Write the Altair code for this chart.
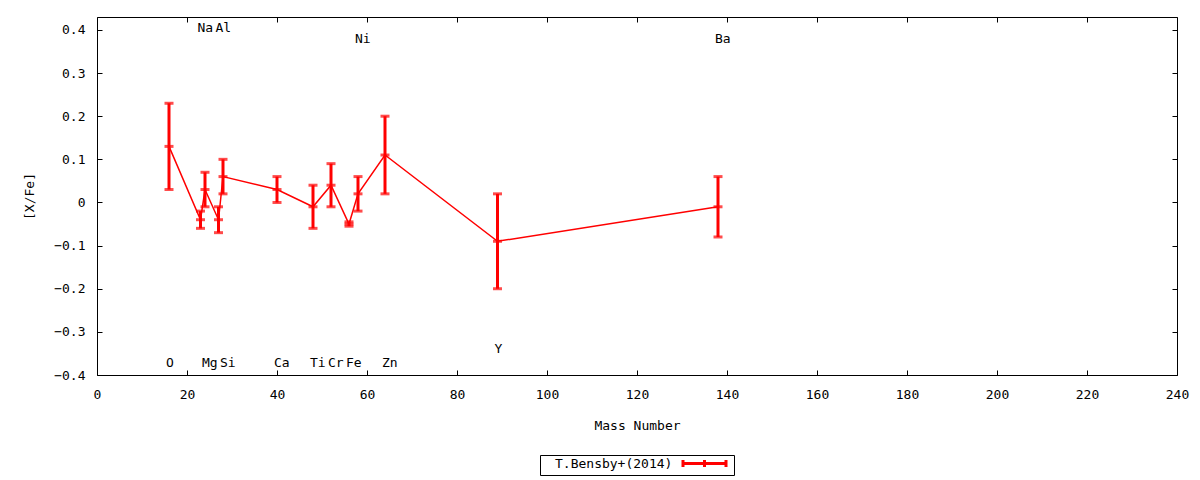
import altair as alt
import pandas as pd

# Data
elements = ["O", "Na", "Mg", "Al", "Si", "Ca", "Ti", "Cr", "Fe", "Ni", "Zn", "Y", "Ba"]
mass = [16, 23, 24, 27, 28, 40, 48, 52, 56, 58, 64, 89, 138]
xfe = [0.13, -0.04, 0.03, -0.04, 0.06, 0.03, -0.01, 0.04, -0.05, 0.02, 0.11, -0.09, -0.01]
err = [0.10, 0.02, 0.04, 0.03, 0.04, 0.03, 0.05, 0.05, 0.005, 0.04, 0.09, 0.11, 0.07]

# element label positions (data units)
label_names = ["O", "Na", "Mg", "Al", "Si", "Ca", "Ti", "Cr", "Fe", "Ni", "Zn", "Y", "Ba"]
label_x = [16, 23, 24, 27, 28, 40, 48, 52, 56, 58, 64, 89, 138]
label_y = [-0.372, 0.405, -0.372, 0.405, -0.372, -0.372, -0.372, -0.372, -0.372, 0.38, -0.372, -0.34, 0.38]

series_name = "T.Bensby+(2014)"
x_ticks = list(range(0, 241, 20))
y_ticks = [-0.4, -0.3, -0.2, -0.1, 0, 0.1, 0.2, 0.3, 0.4]

df = pd.DataFrame({
    "el": elements, "A": mass, "v": xfe,
    "lo": [a - b for a, b in zip(xfe, err)],
    "hi": [a + b for a, b in zip(xfe, err)],
    "s": [series_name] * len(mass),
})
lab = pd.DataFrame({"t": label_names, "x": label_x, "y": label_y})

FONT = "DejaVu Sans Mono"
xs = alt.Scale(domain=[0, 240], nice=False, zero=False)
ys = alt.Scale(domain=[-0.4, 0.43], nice=False, zero=False)

TICK = 5
x_axis_bottom = alt.Axis(
    orient="bottom", values=x_ticks, domain=False, grid=False, tickSize=TICK,
    offset=-TICK, tickColor="black", labelPadding=13, labelFontSize=13,
    labelFont=FONT, labelColor="black", title="Mass Number", titleFont=FONT,
    titleFontSize=13, titleFontWeight="normal", titleColor="black", titlePadding=18,
    labelFlush=False,
)
x_axis_top = alt.Axis(
    orient="top", values=x_ticks, domain=False, grid=False, tickSize=TICK,
    offset=-TICK, tickColor="black", labels=False, title=None,
)
y_axis_left = alt.Axis(
    orient="left", values=y_ticks, domain=False, grid=False, tickSize=TICK,
    offset=-TICK, tickColor="black", labelPadding=12, labelFontSize=13,
    labelFont=FONT, labelColor="black", title="[X/Fe]", titleFont=FONT,
    titleFontSize=13, titleFontWeight="normal", titleColor="black", titlePadding=17,
    format="~g", labelFlush=False,
)
y_axis_right = alt.Axis(
    orient="right", values=y_ticks, domain=False, grid=False, tickSize=TICK,
    offset=-TICK, tickColor="black", labels=False, title=None,
)

# legend key drawn to the right of the label (gnuplot style): a line with
# end and middle bars, placed via the custom symbol path (units of 2 px)
KEY = "M67.25,0L88.75,0M67.25,-1.75L67.25,1.75M78,-1.75L78,1.75M88.75,-1.75L88.75,1.75"

color = alt.Color(
    "s:N",
    scale=alt.Scale(domain=[series_name], range=["#ff0000"]),
    legend=alt.Legend(
        title=None, orient="none", legendX=443, legendY=438,
        symbolType=KEY, symbolSize=16, symbolStrokeWidth=3,
        symbolStrokeColor="#ff0000", symbolFillColor="transparent",
        labelFont=FONT, labelFontSize=13, labelColor="black",
        labelOffset=0, strokeColor="black", padding=2,
    ),
)

base = alt.Chart(df)

line = base.mark_line(strokeWidth=1.5).encode(
    x=alt.X("A:Q", scale=xs, axis=x_axis_bottom),
    y=alt.Y("v:Q", scale=ys, axis=y_axis_left),
    color=color,
)

bars = base.mark_rule(strokeWidth=3, color="#ff0000").encode(
    x=alt.X("A:Q", scale=xs, axis=x_axis_top),
    y=alt.Y("lo:Q", scale=ys, axis=y_axis_right),
    y2="hi:Q",
)

cap_lo = base.mark_tick(orient="horizontal", size=9, thickness=3, color="#ff0000").encode(
    x=alt.X("A:Q", scale=xs, axis=None),
    y=alt.Y("lo:Q", scale=ys, axis=None),
)
cap_hi = base.mark_tick(orient="horizontal", size=9, thickness=3, color="#ff0000").encode(
    x=alt.X("A:Q", scale=xs, axis=None),
    y=alt.Y("hi:Q", scale=ys, axis=None),
)
cap_mid = base.mark_tick(orient="horizontal", size=9, thickness=3, color="#ff0000").encode(
    x=alt.X("A:Q", scale=xs, axis=None),
    y=alt.Y("v:Q", scale=ys, axis=None),
)

labels = alt.Chart(lab).mark_text(
    align="left", baseline="middle", dx=-3, font=FONT, fontSize=13, color="black"
).encode(
    x=alt.X("x:Q", scale=xs, axis=None),
    y=alt.Y("y:Q", scale=ys, axis=None),
    text="t:N",
)

chart = (
    alt.layer(line, bars, cap_lo, cap_hi, cap_mid, labels)
    .resolve_axis(x="independent", y="independent")
    .properties(
        width=1080, height=358,
        autosize=alt.AutoSizeParams(type="none"),
        padding={"left": 89, "top": 9, "right": 15, "bottom": 105},
        background="white",
    )
    .configure_view(stroke="black", strokeWidth=1)
)

chart.save("out.html", embed_options={"renderer": "svg", "actions": False})
